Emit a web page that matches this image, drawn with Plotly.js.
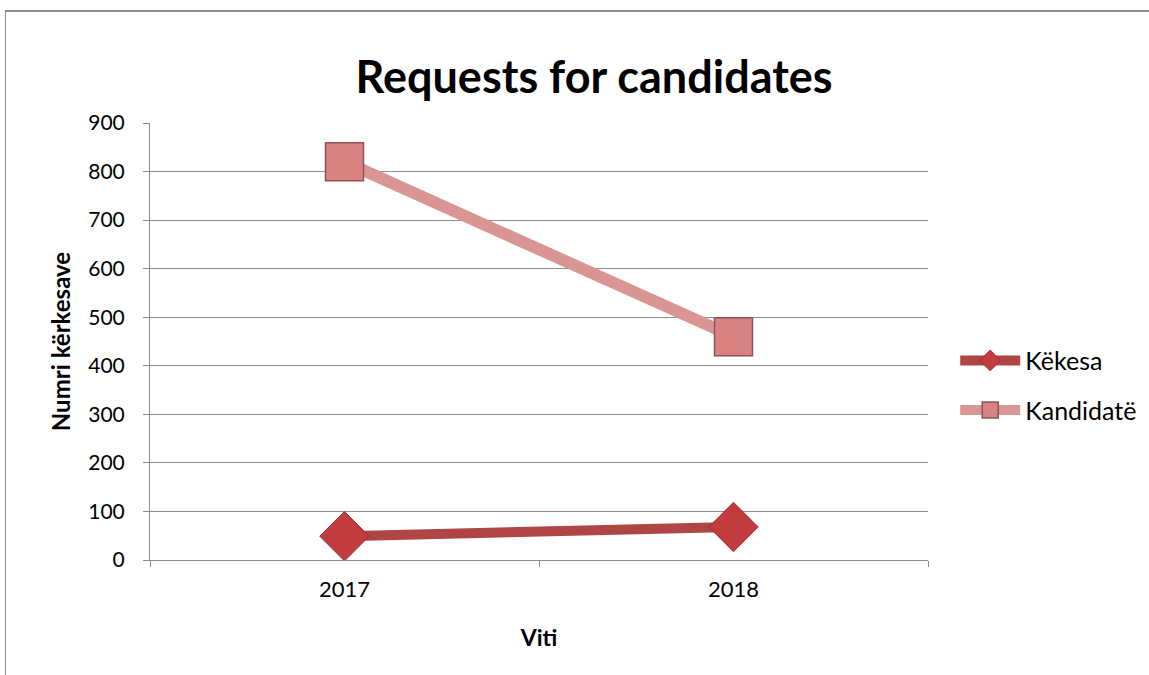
<!DOCTYPE html>
<html>
<head>
<meta charset="utf-8">
<script src="https://cdn.plot.ly/plotly-3.0.1.min.js"></script>
<style>
html,body{margin:0;padding:0;background:#fff;}
#frame{position:absolute;left:5px;top:10px;width:1144px;height:665px;border-top:2px solid #8c8c8c;border-left:1px solid #8c8c8c;box-sizing:border-box;}
#chart{position:absolute;left:0;top:0;width:1149px;height:675px;}
</style>
</head>
<body>
<div id="frame"></div>
<div id="chart"></div>
<script>
const years = ["2017", "2018"];
const kerkesa = [49, 68];
const kandidate = [820, 460];
const seriesNames = ["Këkesa", "Kandidatë"];

const traces = [
  {
    x: years, y: kerkesa, name: seriesNames[0], type: "scatter", mode: "lines+markers",
    legendgroup: "g1",
    line: {color: "#b04545", width: 10},
    marker: {symbol: "diamond", size: 38, color: "#c23b3e", line: {color: "#9a2f30", width: 1}}
  },
  {
    x: years, y: kandidate, name: seriesNames[1], type: "scatter", mode: "lines+markers",
    legendgroup: "g2",
    line: {color: "#d99594", width: 12},
    marker: {symbol: "square", size: 38, color: "#d98282", line: {color: "#8c5555", width: 1.5}}
  }
];

const layout = {
  width: 1149, height: 675,
  paper_bgcolor: "rgba(0,0,0,0)", plot_bgcolor: "rgba(0,0,0,0)",
  margin: {l: 150, r: 221, t: 123, b: 115, autoexpand: false},
  font: {family: "Lato, 'Open Sans', sans-serif", color: "#000"},
  title: {text: "<b>Requests for candidates</b>", x: 0.517, xanchor: "center", y: 0.885, yanchor: "middle",
          font: {size: 45, family: "Lato, 'Open Sans', sans-serif", color: "#000"}},
  xaxis: {
    type: "category", range: [-0.5, 1.5], showgrid: false,
    showline: true, linecolor: "#8c8c8c", linewidth: 1,
    ticks: "outside", tickson: "boundaries", ticklen: 6, tickcolor: "#8c8c8c",
    tickfont: {size: 22}, zeroline: false, ticklabelstandoff: 10,
    title: {text: "<b>Viti</b>", font: {size: 23}, standoff: 28}
  },
  yaxis: {
    range: [0, 900], dtick: 100, showgrid: true, gridcolor: "#8c8c8c", gridwidth: 1,
    showline: true, linecolor: "#8c8c8c", linewidth: 1,
    ticks: "outside", ticklen: 6, tickcolor: "#8c8c8c",
    tickfont: {size: 21}, zeroline: false, ticklabelstandoff: 14,
    title: {text: "<b>Numri kërkesave</b>", font: {size: 24}, standoff: 10}
  },
  legend: {x: 1.035, y: 0.4, xanchor: "left", yanchor: "middle", font: {size: 25},
           itemwidth: 60, traceorder: "grouped", tracegroupgap: 14, bgcolor: "rgba(0,0,0,0)"},
  showlegend: true
};

Plotly.newPlot("chart", traces, layout, {displayModeBar: false, staticPlot: true});
</script>
</body>
</html>
